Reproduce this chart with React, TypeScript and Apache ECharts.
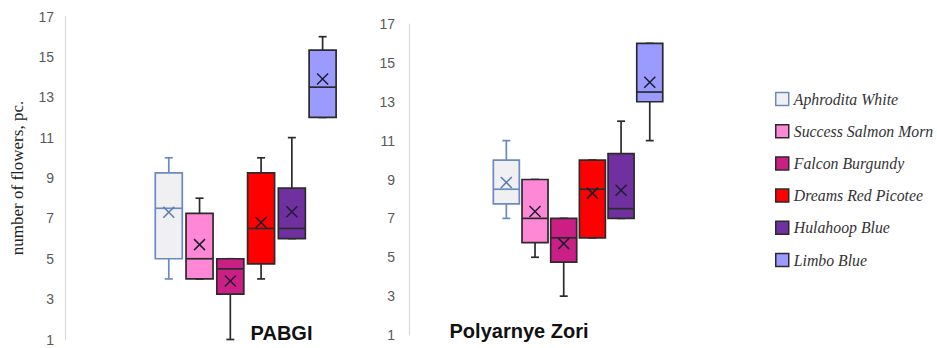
import React, { useEffect, useRef } from 'react';
import * as echarts from 'echarts';

const cultivars = [
  'Aphrodita White',
  'Success Salmon Morn',
  'Falcon Burgundy',
  'Dreams Red Picotee',
  'Hulahoop Blue',
  'Limbo Blue',
];
const panelTitles = ['PABGI', 'Polyarnye Zori'];
const yAxisTitle = 'number of flowers, pc.';
const yMin = 1;
const yMax = 17;
const yLabelStep = 2;

// [min, Q1, median, Q3, max, mean]
const pabgiStats = [
  [4, 5, 7.5, 9.25, 10, 7.3],
  [4, 4, 5, 7.25, 8, 5.7],
  [1, 3.25, 4.5, 5, 5, 3.9],
  [4, 4.75, 6.5, 9.25, 10, 6.8],
  [6, 6, 6.5, 8.5, 11, 7.33],
  [12, 12, 13.5, 15.33, 16, 13.9],
];
const zoriStats = [
  [7, 7.75, 8.5, 10, 11, 8.85],
  [5, 5.75, 7, 9, 9, 7.35],
  [3, 4.75, 6, 7, 7, 5.7],
  [6, 6, 8.5, 10, 10, 8.3],
  [7, 7, 7.5, 10.33, 12, 8.45],
  [11, 13, 13.5, 16, 16, 14],
];

const fills = ['#F0F0F2', '#FF88D6', '#CC1F86', '#FF0000', '#7030A0', '#9A9AFF'];
const strokes = ['#6A8BC2', '#2B2B2B', '#2B2B2B', '#2B2B2B', '#2B2B2B', '#2B2B2B'];
const markColors = ['#5A7AB2', '#1E1E30', '#1E1E30', '#1E1E30', '#1E1E30', '#1E1E30'];

const panels = [
  { stats: pabgiStats, gridLeft: 153.4, gridWidth: 184.6, top: 16.5, height: 323, axisX: 65, labelMargin: 11, boxW: 27 },
  { stats: zoriStats, gridLeft: 492, gridWidth: 172.1, top: 24, height: 311, axisX: 409, labelMargin: 14, boxW: 26 },
];

function makeRender(boxW: number, fill: string, stroke: string, mark: string) {
  return (_params: any, api: any) => {
    const x = api.value(0);
    const pMin = api.coord([x, api.value(1)]);
    const pQ1 = api.coord([x, api.value(2)]);
    const pMed = api.coord([x, api.value(3)]);
    const pQ3 = api.coord([x, api.value(4)]);
    const pMax = api.coord([x, api.value(5)]);
    const pMean = api.coord([x, api.value(6)]);
    const cx = pQ1[0];
    const half = boxW / 2;
    const cap = 4;
    const lw = 1.7;
    const m = 5.5;
    const ls = { stroke, lineWidth: lw };
    const children: any[] = [
      { type: 'line', shape: { x1: cx, y1: pMax[1], x2: cx, y2: pQ3[1] }, style: ls },
      { type: 'line', shape: { x1: cx, y1: pQ1[1], x2: cx, y2: pMin[1] }, style: ls },
      { type: 'line', shape: { x1: cx - cap, y1: pMax[1], x2: cx + cap, y2: pMax[1] }, style: ls },
      { type: 'line', shape: { x1: cx - cap, y1: pMin[1], x2: cx + cap, y2: pMin[1] }, style: ls },
      {
        type: 'rect',
        shape: { x: cx - half, y: pQ3[1], width: boxW, height: pQ1[1] - pQ3[1] },
        style: { fill, stroke, lineWidth: lw },
      },
      { type: 'line', shape: { x1: cx - half, y1: pMed[1], x2: cx + half, y2: pMed[1] }, style: ls },
      { type: 'line', shape: { x1: cx - m, y1: pMean[1] - m, x2: cx + m, y2: pMean[1] + m }, style: { stroke: mark, lineWidth: 1.5 } },
      { type: 'line', shape: { x1: cx - m, y1: pMean[1] + m, x2: cx + m, y2: pMean[1] - m }, style: { stroke: mark, lineWidth: 1.5 } },
    ];
    return { type: 'group', children };
  };
}

export default function App() {
  const ref = useRef<HTMLDivElement>(null);
  useEffect(() => {
    if (!ref.current) return;
    const chart = echarts.init(ref.current, undefined, { renderer: 'svg' });
    const series: any[] = [];
    panels.forEach((p, pi) => {
      cultivars.forEach((name, i) => {
        series.push({
          type: 'custom',
          name,
          xAxisIndex: pi,
          yAxisIndex: pi,
          data: [[i, ...p.stats[i]]],
          encode: { x: 0, y: [1, 2, 3, 4, 5, 6] },
          itemStyle: { color: fills[i] },
          renderItem: makeRender(p.boxW, fills[i], strokes[i], markColors[i]),
        });
      });
    });
    chart.setOption({
      animation: false,
      grid: panels.map((p) => ({ left: p.gridLeft, width: p.gridWidth, top: p.top, height: p.height })),
      xAxis: panels.map((_p, pi) => ({
        type: 'category',
        gridIndex: pi,
        data: cultivars,
        show: false,
      })),
      yAxis: panels.map((p, pi) => ({
        type: 'value',
        gridIndex: pi,
        min: yMin,
        max: yMax,
        interval: 1,
        offset: p.gridLeft - p.axisX,
        axisLine: { show: true, lineStyle: { color: '#D9D9D9', width: 1.2 } },
        axisTick: { show: false },
        splitLine: { show: false },
        axisLabel: {
          margin: p.labelMargin,
          color: '#595959',
          fontFamily: '"Liberation Sans", Arial, sans-serif',
          fontSize: 14,
          lineHeight: 12,
          formatter: (v: number) => ((v - yMin) % yLabelStep === 0 ? String(v) : ''),
        },
        name: pi === 0 ? yAxisTitle : '',
        nameLocation: 'middle',
        nameRotate: 90,
        nameGap: 39,
        nameTextStyle: {
          fontFamily: '"Liberation Serif", serif',
          fontSize: 17,
          color: '#222',
        },
      })),
      legend: {
        orient: 'vertical',
        left: 775,
        top: 90,
        padding: 0,
        itemWidth: 13,
        itemHeight: 13,
        itemGap: 14.2,
        icon: 'rect',
        textStyle: {
          fontFamily: '"Liberation Serif", serif',
          fontStyle: 'italic',
          fontSize: 15.8,
          lineHeight: 18,
          color: '#333',
        },
        data: cultivars.map((n, i) => ({
          name: n,
          itemStyle: { color: fills[i], borderColor: strokes[i], borderWidth: 1.5 },
        })),
      },
      graphic: [
        {
          type: 'text',
          x: 281.5,
          y: 333,
          style: {
            text: panelTitles[0],
            fill: '#111',
            fontFamily: '"Liberation Sans", sans-serif',
            fontWeight: 'bold',
            fontSize: 20,
            align: 'center',
            verticalAlign: 'middle',
          },
        },
        {
          type: 'text',
          x: 519,
          y: 331,
          style: {
            text: panelTitles[1],
            fill: '#111',
            fontFamily: '"Liberation Sans", sans-serif',
            fontWeight: 'bold',
            fontSize: 20,
            align: 'center',
            verticalAlign: 'middle',
          },
        },
      ],
      series,
    });
    return () => chart.dispose();
  }, []);
  return (
    <div
      ref={ref}
      style={{ position: 'fixed', left: 0, top: 0, width: 937, height: 348, background: '#fff' }}
    />
  );
}
